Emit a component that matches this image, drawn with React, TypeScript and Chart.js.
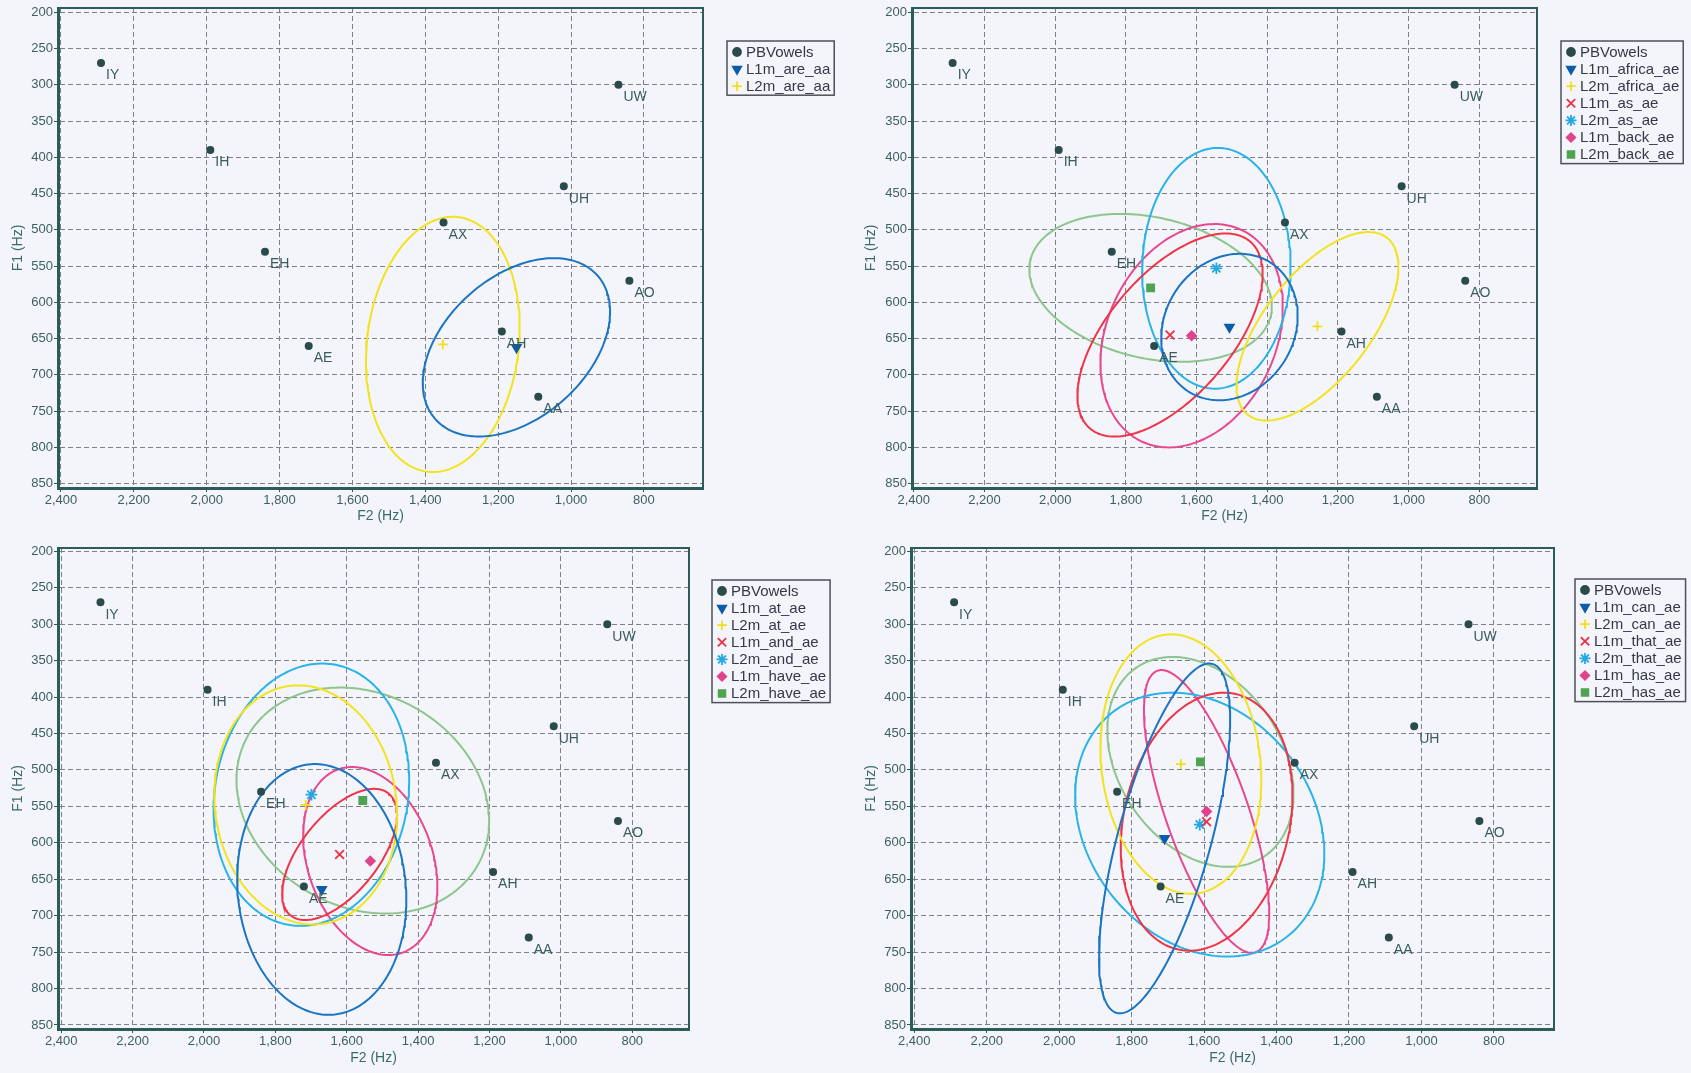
import React, { useEffect, useRef } from 'react';
import { Chart, registerables } from 'chart.js';
import { drawPoint } from 'chart.js/helpers';

Chart.register(...registerables);

const FONT = '"Liberation Sans", Arial, sans-serif';
const PAGE_BG = '#f4f5fa';
const AXIS_COLOR = '#2c5b5c';
const GRID_COLOR = '#7e8088';
const TICK_COLOR = '#3d5f61';
const TITLE_COLOR = '#3b6a6b';
const LABEL_COLOR = '#3a5d5b';
const VOWEL_COLOR = '#2b4a4b';
const LEGEND_TEXT = '#35384a';

// Peterson & Barney reference vowels (male means, Hz)
const vowelNames = ['IY', 'IH', 'EH', 'AE', 'AX', 'AH', 'AA', 'AO', 'UH', 'UW'];
const vowelF2 = [2290, 1990, 1840, 1720, 1350, 1190, 1090, 840, 1020, 870];
const vowelF1 = [270, 390, 530, 660, 490, 640, 730, 570, 440, 300];

// Axis tick values
const f2Ticks = [2400, 2200, 2000, 1800, 1600, 1400, 1200, 1000, 800];
const f1Ticks = [200, 250, 300, 350, 400, 450, 500, 550, 600, 650, 700, 750, 800, 850];

// "are" /aa/ tokens
const areSeries = ['L1m_are_aa', 'L2m_are_aa'];
const areF2 = [1150, 1352];
const areF1 = [662, 658];
const areSpreadF2 = [257, 211];
const areSpreadF1 = [123, 176];
const areCorr = [0.4, 0.13];

// "africa" / "as" / "back" /ae/ tokens
const africaSeries = ['L1m_africa_ae', 'L2m_africa_ae', 'L1m_as_ae', 'L2m_as_ae', 'L1m_back_ae', 'L2m_back_ae'];
const africaF2 = [1507, 1258, 1675, 1544, 1614, 1730];
const africaF1 = [634, 633, 645, 553, 646, 580];
const africaSpreadF2 = [193, 229, 262, 210, 258, 343];
const africaSpreadF1 = [101, 130, 140, 166, 154, 102];
const africaCorr = [0.15, 0.63, 0.6, 0.02, 0.25, -0.25];

// "at" / "and" / "have" /ae/ tokens
const atSeries = ['L1m_at_ae', 'L2m_at_ae', 'L1m_and_ae', 'L2m_and_ae', 'L1m_have_ae', 'L2m_have_ae'];
const atF2 = [1670, 1715, 1620, 1699, 1534, 1555];
const atF1 = [664, 548, 616, 534, 625, 542];
const atSpreadF2 = [237, 256, 161, 274, 188, 354];
const atSpreadF1 = [172, 164, 90, 180, 129, 155];
const atCorr = [-0.08, -0.08, 0.6, 0.11, -0.27, -0.18];

// "can" / "that" / "has" /ae/ tokens
const canSeries = ['L1m_can_ae', 'L2m_can_ae', 'L1m_that_ae', 'L2m_that_ae', 'L1m_has_ae', 'L2m_has_ae'];
const canF2 = [1709, 1664, 1593, 1612, 1593, 1610];
const canF1 = [594, 492, 571, 575, 557, 489];
const canSpreadF2 = [181, 222, 237, 344, 173, 257];
const canSpreadF1 = [240, 178, 177, 181, 194, 144];
const canCorr = [0.68, -0.12, 0.2, -0.22, -0.72, -0.3];

type SeriesStyle = { marker: string; line: string; pointStyle: string; rotation: number; radius: number };

const seriesStyles: SeriesStyle[] = [
  { marker: '#0b5cab', line: '#1a74c2', pointStyle: 'triangle', rotation: 180, radius: 5 },
  { marker: '#efe01e', line: '#f3e31e', pointStyle: 'cross', rotation: 0, radius: 5 },
  { marker: '#ee2f45', line: '#f03448', pointStyle: 'crossRot', rotation: 0, radius: 6.2 },
  { marker: '#22a9e2', line: '#2ab3e8', pointStyle: 'star', rotation: 0, radius: 5.8 },
  { marker: '#e0448a', line: '#e8488f', pointStyle: 'rectRot', rotation: 0, radius: 4.5 },
  { marker: '#4fa352', line: '#8cc68c', pointStyle: 'rect', rotation: 0, radius: 5 },
];

type Geo = {
  x: number; y: number; w: number; h: number;
  left: number; top: number; right: number; bottom: number;
  f2Min: number; f2Max: number; f1Min: number; f1Max: number;
  yTitlePad: number; xTitlePad: number;
  legendX: number; legendY: number;
};

type PanelSpec = {
  series: string[]; f2: number[]; f1: number[];
  spreadF2: number[]; spreadF1: number[]; corr: number[];
  geo: Geo;
};

const panels: PanelSpec[] = [
  {
    series: areSeries, f2: areF2, f1: areF1, spreadF2: areSpreadF2, spreadF1: areSpreadF1, corr: areCorr,
    geo: { x: 0, y: 0, w: 845, h: 535, left: 58, top: 8, right: 703, bottom: 488,
      f2Min: 638, f2Max: 2408, f1Min: 194, f1Max: 856, yTitlePad: 10, xTitlePad: 10, legendX: 727, legendY: 41 },
  },
  {
    series: africaSeries, f2: africaF2, f1: africaF1, spreadF2: africaSpreadF2, spreadF1: africaSpreadF1, corr: africaCorr,
    geo: { x: 845, y: 0, w: 846, h: 535, left: 67, top: 8, right: 692, bottom: 488,
      f2Min: 637, f2Max: 2405, f1Min: 194, f1Max: 856, yTitlePad: 17.5, xTitlePad: 10, legendX: 716, legendY: 41 },
  },
  {
    series: atSeries, f2: atF2, f1: atF1, spreadF2: atSpreadF2, spreadF1: atSpreadF1, corr: atCorr,
    geo: { x: 0, y: 535, w: 845, h: 538, left: 58, top: 13, right: 689, bottom: 494,
      f2Min: 641, f2Max: 2409, f1Min: 195.5, f1Max: 855.5, yTitlePad: 10, xTitlePad: 6.5, legendX: 712, legendY: 45 },
  },
  {
    series: canSeries, f2: canF2, f1: canF1, spreadF2: canSpreadF2, spreadF1: canSpreadF1, corr: canCorr,
    geo: { x: 845, y: 535, w: 846, h: 538, left: 66, top: 13, right: 709, bottom: 494,
      f2Min: 634, f2Max: 2409, f1Min: 195.5, f1Max: 855.5, yTitlePad: 17.5, xTitlePad: 6.5, legendX: 730, legendY: 44 },
  },
];

// Outline of a spread ellipse: half-extents along F2/F1 and their correlation.
function ellipseOutline(cx: number, cy: number, sx: number, sy: number, r: number, steps = 200) {
  const q = Math.sqrt(1 - r * r);
  const pts: { x: number; y: number }[] = [];
  for (let k = 0; k <= steps; k++) {
    const t = (2 * Math.PI * k) / steps;
    pts.push({ x: cx + sx * Math.cos(t), y: cy + sy * (r * Math.cos(t) + q * Math.sin(t)) });
  }
  return pts;
}

type LegendItem = { text: string; color: string; pointStyle: string; rotation: number; radius: number };

const decorPlugin = {
  id: 'panelDecor',
  afterDatasetsDraw(chart: any) {
    const { ctx, scales } = chart;
    ctx.save();
    ctx.font = `14px ${FONT}`;
    ctx.fillStyle = LABEL_COLOR;
    ctx.textAlign = 'left';
    ctx.textBaseline = 'middle';
    vowelNames.forEach((name, i) => {
      const px = scales.x.getPixelForValue(vowelF2[i]);
      const py = scales.y.getPixelForValue(vowelF1[i]);
      ctx.fillText(name, px + 5, py + 12.5);
    });
    ctx.restore();
  },
  afterDraw(chart: any, _args: any, opts: any) {
    const { ctx, chartArea } = chart;
    ctx.save();
    // top and right frame
    ctx.strokeStyle = AXIS_COLOR;
    ctx.lineWidth = 2;
    ctx.beginPath();
    ctx.moveTo(chartArea.left, chartArea.top);
    ctx.lineTo(chartArea.right, chartArea.top);
    ctx.lineTo(chartArea.right, chartArea.bottom);
    ctx.stroke();

    // boxed legend
    const items: LegendItem[] = opts.items || [];
    const lx = opts.x;
    const ly = opts.y;
    const rowH = 17.1;
    ctx.font = `15px ${FONT}`;
    const maxW = Math.max(...items.map((it) => ctx.measureText(it.text).width));
    const w = 19 + maxW + 4;
    const h = (items.length - 1) * rowH + 20;
    ctx.fillStyle = PAGE_BG;
    ctx.fillRect(lx, ly, w, h);
    ctx.strokeStyle = '#4d5058';
    ctx.lineWidth = 1.5;
    ctx.strokeRect(lx, ly, w, h);
    items.forEach((it, k) => {
      const cy = ly + 11 + k * rowH;
      ctx.fillStyle = it.color;
      ctx.strokeStyle = it.color;
      ctx.lineWidth = 1.8;
      drawPoint(ctx, { pointStyle: it.pointStyle as any, rotation: it.rotation, radius: it.radius * 0.95, borderWidth: 1.8 }, lx + 10, cy);
      ctx.fillStyle = LEGEND_TEXT;
      ctx.textAlign = 'left';
      ctx.textBaseline = 'middle';
      ctx.fillText(it.text, lx + 19, cy + 0.5);
    });
    ctx.restore();
  },
};

function buildConfig(p: PanelSpec): any {
  const g = p.geo;
  const datasets: any[] = [];
  datasets.push({
    label: 'PBVowels',
    data: vowelF2.map((x, i) => ({ x, y: vowelF1[i] })),
    pointStyle: 'circle',
    pointRadius: 4,
    backgroundColor: VOWEL_COLOR,
    borderColor: VOWEL_COLOR,
    borderWidth: 0,
    order: 0,
  });
  p.series.forEach((name, i) => {
    const st = seriesStyles[i];
    datasets.push({
      label: name,
      data: [{ x: p.f2[i], y: p.f1[i] }],
      pointStyle: st.pointStyle,
      rotation: st.rotation,
      pointRadius: st.radius,
      pointBorderWidth: 1.8,
      backgroundColor: st.marker,
      borderColor: st.marker,
      order: 0,
    });
  });
  p.series.forEach((name, i) => {
    const st = seriesStyles[i];
    datasets.push({
      label: `${name} ellipse`,
      data: ellipseOutline(p.f2[i], p.f1[i], p.spreadF2[i], p.spreadF1[i], p.corr[i]),
      showLine: true,
      pointRadius: 0,
      borderColor: st.line,
      borderWidth: 2,
      fill: false,
      tension: 0,
      order: 1,
    });
  });

  const legendItems: LegendItem[] = [
    { text: 'PBVowels', color: VOWEL_COLOR, pointStyle: 'circle', rotation: 0, radius: 4.2 },
    ...p.series.map((name, i) => ({
      text: name,
      color: seriesStyles[i].marker,
      pointStyle: seriesStyles[i].pointStyle,
      rotation: seriesStyles[i].rotation,
      radius: seriesStyles[i].radius,
    })),
  ];

  const xAxisH = g.h - g.bottom;

  return {
    type: 'scatter',
    data: { datasets },
    plugins: [decorPlugin],
    options: {
      animation: false,
      responsive: false,
      devicePixelRatio: 1,
      events: [],
      layout: { padding: { left: 0, top: g.top, right: g.w - g.right, bottom: 0 } },
      plugins: {
        legend: { display: false },
        tooltip: { enabled: false },
        panelDecor: { items: legendItems, x: g.legendX, y: g.legendY },
      },
      scales: {
        x: {
          type: 'linear',
          position: 'bottom',
          reverse: true,
          min: g.f2Min,
          max: g.f2Max,
          afterBuildTicks: (s: any) => { s.ticks = f2Ticks.map((v) => ({ value: v })); },
          afterFit: (s: any) => { s.height = xAxisH; s.paddingLeft = 0; s.paddingRight = 0; },
          grid: { color: GRID_COLOR, lineWidth: 1, tickLength: 4, tickColor: AXIS_COLOR, tickWidth: 1 },
          border: { display: true, color: AXIS_COLOR, width: 3, dash: [5, 3] },
          ticks: {
            color: TICK_COLOR, font: { family: FONT, size: 13 }, padding: 1, maxRotation: 0, autoSkip: false,
            callback: (v: any) => Number(v).toLocaleString('en-US'),
          },
          title: { display: true, text: 'F2 (Hz)', color: TITLE_COLOR, font: { family: FONT, size: 14 }, padding: { top: 0, bottom: g.xTitlePad } },
        },
        y: {
          type: 'linear',
          position: 'left',
          reverse: true,
          min: g.f1Min,
          max: g.f1Max,
          afterBuildTicks: (s: any) => { s.ticks = f1Ticks.map((v) => ({ value: v })); },
          afterFit: (s: any) => { s.width = g.left; s.paddingTop = 0; s.paddingBottom = 0; },
          grid: { color: GRID_COLOR, lineWidth: 1, tickLength: 4, tickColor: AXIS_COLOR, tickWidth: 1 },
          border: { display: true, color: AXIS_COLOR, width: 3, dash: [5, 3] },
          ticks: { color: TICK_COLOR, font: { family: FONT, size: 13 }, padding: 1, autoSkip: false },
          title: { display: true, text: 'F1 (Hz)', color: TITLE_COLOR, font: { family: FONT, size: 14 }, padding: { top: g.yTitlePad, bottom: 0 } },
        },
      },
    },
  };
}

function VowelPanel({ spec }: { spec: PanelSpec }) {
  const ref = useRef<HTMLCanvasElement>(null);
  useEffect(() => {
    if (!ref.current) return;
    const chart = new Chart(ref.current, buildConfig(spec));
    return () => chart.destroy();
  }, [spec]);
  const g = spec.geo;
  return (
    <canvas
      ref={ref}
      width={g.w}
      height={g.h}
      style={{ position: 'absolute', left: g.x, top: g.y, width: g.w, height: g.h }}
    />
  );
}

export default function App() {
  return (
    <div
      style={{
        position: 'fixed',
        left: 0,
        top: 0,
        width: 1691,
        height: 1073,
        background: PAGE_BG,
        overflow: 'hidden',
      }}
    >
      {panels.map((p, i) => (
        <VowelPanel key={i} spec={p} />
      ))}
    </div>
  );
}
